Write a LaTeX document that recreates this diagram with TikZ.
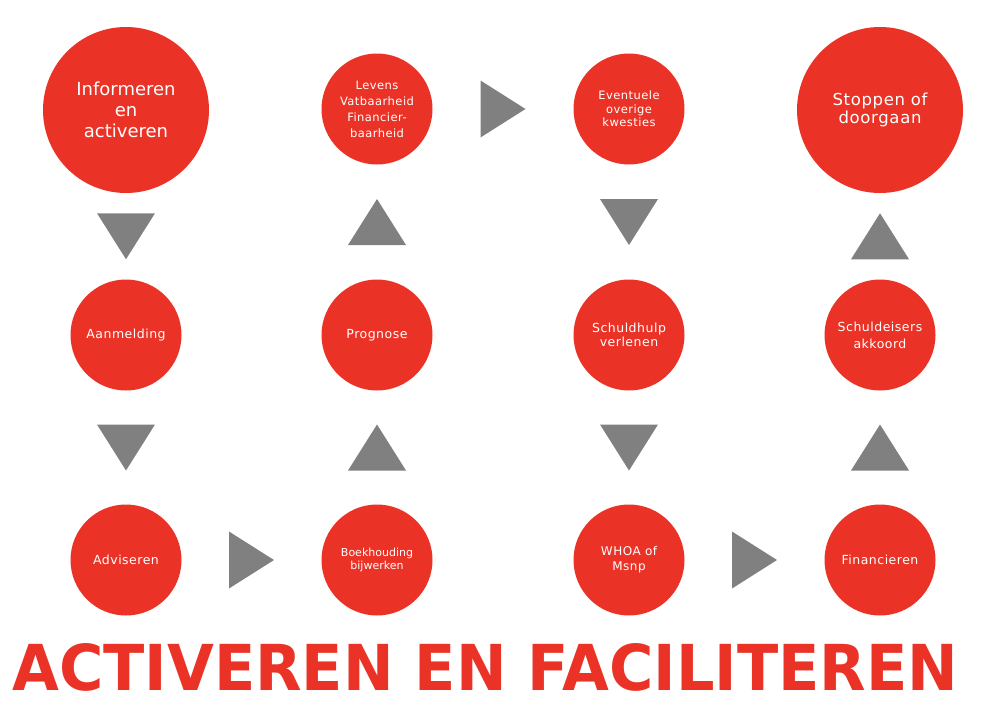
\documentclass[tikz,border=0pt]{standalone}
\usepackage{fontspec}
\usepackage{graphicx}
\setmainfont{DejaVu Sans}
\newfontfamily\spacedfont[LetterSpace=4]{DejaVu Sans}
\usetikzlibrary{calc}
\definecolor{circred}{RGB}{234,51,38}
\definecolor{trigray}{RGB}{128,128,128}
\tikzset{
  bigcirc/.style={circle, fill=circred, minimum size=166pt, inner sep=0pt, text=white, align=center},
  smallcirc/.style={circle, fill=circred, minimum size=111pt, inner sep=0pt, text=white, align=center,
    font=\spacedfont\fontsize{12.5}{15}\selectfont},
  downtri/.pic={\fill[trigray] (-29,-23) -- (29,-23) -- (0,23) -- cycle;},
  uptri/.pic={\fill[trigray] (-29,23) -- (29,23) -- (0,-23) -- cycle;},
  righttri/.pic={\fill[trigray] (-22.5,-28.5) -- (22.5,0) -- (-22.5,28.5) -- cycle;},
}
\begin{document}
\begin{tikzpicture}[x=1pt,y=-1pt]
\useasboundingbox (0,0) rectangle (981,712);
% row 1
\node[bigcirc, font=\fontsize{18}{21}\selectfont] (inf) at (126,110) {Informeren\\en\\activeren};
\node[smallcirc, font=\spacedfont\fontsize{11.5}{16}\selectfont] (lev) at (377,109) {Levens\\Vatbaarheid\\Financier-\\baarheid};
\node[smallcirc, font=\spacedfont\fontsize{11.5}{13.5}\selectfont] (eve) at (629,109) {Eventuele\\overige\\kwesties};
\node[bigcirc, font=\spacedfont\fontsize{16.5}{18}\selectfont] (sto) at (880,110) {Stoppen of\\doorgaan};
% row 2
\node[smallcirc] (aan) at (126,335) {Aanmelding};
\node[smallcirc] (pro) at (377,335) {Prognose};
\node[smallcirc, font=\spacedfont\fontsize{12.5}{14}\selectfont] (sch) at (629,335) {Schuldhulp\\verlenen};
\node[smallcirc, font=\spacedfont\fontsize{12.5}{17}\selectfont] (sde) at (880,335) {Schuldeisers\\akkoord};
% row 3
\node[smallcirc] (adv) at (126,560) {Adviseren};
\node[smallcirc, font=\fontsize{11}{13}\selectfont] (boe) at (377,560) {Boekhouding\\bijwerken};
\node[smallcirc, font=\spacedfont\fontsize{12}{15}\selectfont] (who) at (629,560) {WHOA of\\Msnp};
\node[smallcirc] (fin) at (880,560) {Financieren};
% triangles (connectors)
\pic at ($(inf.south)!0.5!(aan.north)$) {downtri};
\pic at ($(aan.south)!0.5!(adv.north)$) {downtri};
\pic at ($(adv.east)!0.5!(boe.west)$) {righttri};
\pic at ($(boe.north)!0.5!(pro.south)$) {uptri};
\pic at ($(pro.north)!0.5!(lev.south)$) {uptri};
\pic at ($(lev.east)!0.5!(eve.west)$) {righttri};
\pic at ($(eve.south)!0.5!(sch.north)$) {downtri};
\pic at ($(sch.south)!0.5!(who.north)$) {downtri};
\pic at ($(who.east)!0.5!(fin.west)$) {righttri};
\pic at ($(fin.north)!0.5!(sde.south)$) {uptri};
\pic at ($(sde.north)!0.5!(sto.south)$) {uptri};
% title
\node[anchor=base west, inner sep=0pt, text=circred] (title) at (12,690)
  {\resizebox{946pt}{47pt}{\bfseries ACTIVEREN EN FACILITEREN}};
\end{tikzpicture}
\end{document}
